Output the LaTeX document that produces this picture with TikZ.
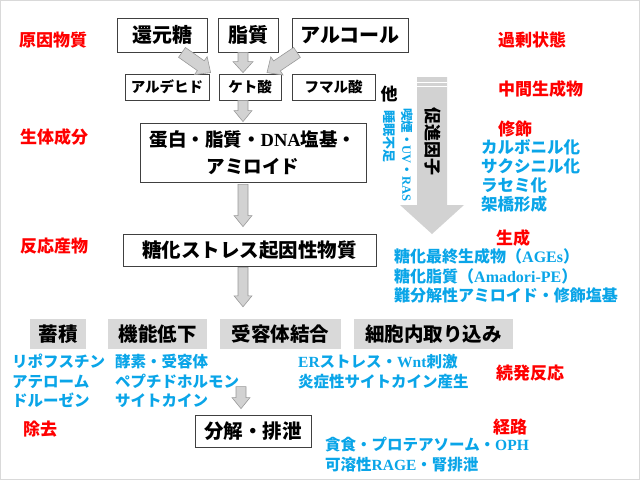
\documentclass[tikz,border=0pt]{standalone}
\usepackage{fontspec}
\setmainfont{Noto Sans CJK JP}
\newfontfamily\lat{Liberation Serif}
\usetikzlibrary{calc}
\definecolor{lblue}{RGB}{10,165,232}
\definecolor{lred}{RGB}{255,0,0}
\newcommand\fs[1]{\bfseries\fontsize{#1}{#1}\selectfont}
% block arrow: #1 shaft half width, #2 head half width, #3 head length, #4 start, #5 tip
\newcommand\barrow[5]{%
  \coordinate (ba-h) at ($#5!#3pt!#4$);
  \draw[garrow] ($#4!#1pt!90:#5$) -- ($(ba-h)!#1pt!90:#5$) -- ($(ba-h)!#2pt!90:#5$) -- #5
    -- ($(ba-h)!#2pt!-90:#5$) -- ($(ba-h)!#1pt!-90:#5$) -- ($#4!#1pt!-90:#5$) -- cycle;
}
\begin{document}
\begin{tikzpicture}[x=1pt,y=-1pt,
  box/.style={draw=black!75, line width=0.8pt, fill=white, inner sep=0pt},
  gbox/.style={fill=gray!30, inner sep=0pt, minimum height=30pt, font=\fs{19.5}},
  redlbl/.style={text=lred, font=\fs{17}, anchor=west, inner sep=0pt},
  bluetxt/.style={text=lblue, anchor=west, inner sep=0pt, align=left},
  garrow/.style={fill=gray!35, draw=gray!80, line width=0.6pt},
  bigarrow/.style={fill=gray!35}]
\useasboundingbox (0,0) rectangle (640,480);
\draw[draw=gray!30, line width=1pt] (0.5,0.5) rectangle (639.5,479.5);

% red labels
\node[redlbl] (l1) at (19,40) {原因物質};
\node[redlbl] (l2) at (20,137) {生体成分};
\node[redlbl] (l3) at (20,246) {反応産物};
\node[redlbl] (l4) at (23,429) {除去};
\node[redlbl] (r1) at (498,40) {過剰状態};
\node[redlbl] (r2) at (498,89) {中間生成物};
\node[redlbl] (r3) at (498,129) {修飾};
\node[redlbl] (r4) at (496,238) {生成};
\node[redlbl] (r5) at (496,373) {続発反応};
\node[redlbl] (r6) at (493,427) {経路};

% top boxes
\node[box, minimum width=90pt, minimum height=34pt, font=\fs{20}] (kan) at (162,35) {還元糖};
\node[box, minimum width=60pt, minimum height=34pt, font=\fs{20}] (lip) at (248,35) {脂質};
\node[box, minimum width=116pt, minimum height=34pt, font=\fs{20}] (alc) at (350,35) {アルコール};
\node[box, minimum width=84pt, minimum height=26pt, font=\fs{14.5}] (ald) at (167,87) {アルデヒド};
\node[box, minimum width=62pt, minimum height=26pt, font=\fs{14.5}] (keto) at (250,87) {ケト酸};
\node[box, minimum width=83pt, minimum height=26pt, font=\fs{14.5}] (fum) at (333.5,87) {フマル酸};
\node[font=\fs{17}, inner sep=0pt] (ta) at (389,94) {他};

\node[box, minimum width=226pt, minimum height=59pt, font=\bfseries\fontsize{18.5}{27}\selectfont, align=center] (prot) at (253,152.5) {蛋白・脂質・{\lat DNA}塩基・\\アミロイド};
\node[box, minimum width=253pt, minimum height=32pt, font=\fs{19.5}] (tou) at (249.5,250) {糖化ストレス起因性物質};

% gray row
\node[gbox, minimum width=56pt] (chik) at (58,334) {蓄積};
\node[gbox, minimum width=99pt] (kino) at (157.5,334) {機能低下};
\node[gbox, minimum width=121pt] (juyo) at (280.5,334) {受容体結合};
\node[gbox, minimum width=159pt] (saibo) at (433.5,334) {細胞内取り込み};

\node[box, minimum width=116pt, minimum height=32pt, font=\fs{19.5}] (bunkai) at (253,431) {分解・排泄};

% blue texts
\node[bluetxt, font=\bfseries\fontsize{15.5}{19.5}\selectfont] (bl1) at (12,381) {リポフスチン\\アテローム\\ドルーゼン};
\node[bluetxt, font=\bfseries\fontsize{15.5}{19.5}\selectfont] (bl2) at (115,381) {酵素・受容体\\ペプチドホルモン\\サイトカイン};
\node[bluetxt, font=\bfseries\fontsize{15.5}{20}\selectfont] (bl3) at (298,372) {{\lat ER}ストレス・{\lat Wnt}刺激\\炎症性サイトカイン産生};
\node[bluetxt, font=\bfseries\fontsize{15.5}{20}\selectfont] (bl4) at (325,454.5) {貪食・プロテアソーム・{\lat OPH}\\可溶性{\lat RAGE}・腎排泄};
\node[bluetxt, font=\bfseries\fontsize{16}{19.75}\selectfont] (bl5) at (394,276) {糖化最終生成物（{\lat AGEs}）\\糖化脂質（{\lat Amadori-PE}）\\難分解性アミロイド・修飾塩基};
\node[bluetxt, font=\bfseries\fontsize{16.5}{19}\selectfont] (bl6) at (481,176) {カルボニル化\\サクシニル化\\ラセミ化\\架橋形成};

% big arrow
\fill[bigarrow] (417,77) -- (447,77) -- (447,205) -- (464,205) -- (432,234) -- (400,205) -- (417,205) -- cycle;
\draw[white, line width=1.2pt] (417,82.5) -- (447,82.5) (417,86.5) -- (447,86.5);
\node[rotate=-90, font=\fs{17}, inner sep=0pt] (soku) at (433,141) {促進因子};
\node[rotate=-90, anchor=west, text=lblue, font=\fs{12.5}, inner sep=0pt] (kitsu) at (407,108) {喫煙・{\lat UV}・{\lat RAS}};
\node[rotate=-90, anchor=west, text=lblue, font=\fs{13}, inner sep=0pt] (suimin) at (389,110) {睡眠不足};

% block arrows
\barrow{6}{11}{12}{($(kan.south)+(20,0)$)}{($(keto.north west)+(-8,-1)$)}
\barrow{5}{10}{11}{($(lip.south)+(-5,0)$)}{($(keto.north)+(-7,-1)$)}
\barrow{6}{11}{12}{($(alc.south)+(-53,0)$)}{($(keto.north)+(17,-1)$)}
\barrow{5}{9}{11}{($(keto.south)+(-7,0)$)}{($(prot.north)+(-10,-1)$)}
\barrow{5}{9}{11}{($(prot.south)+(-10,2)$)}{($(tou.north)+(-6.5,-7)$)}
\barrow{5}{9}{11}{($(tou.south)+(-6.5,1)$)}{($(juyo.north)+(-37.5,-12)$)}
\barrow{5}{9}{11}{($(bunkai.north)+(-12,-28)$)}{($(bunkai.north)+(-12,-6)$)}
\end{tikzpicture}
\end{document}
